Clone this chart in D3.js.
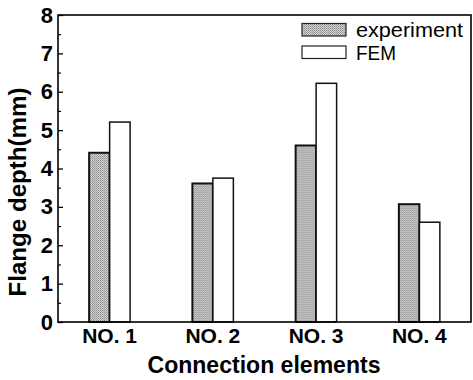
<!DOCTYPE html>
<html><head><meta charset="utf-8">
<script src="https://cdn.jsdelivr.net/npm/d3@7"></script>
<style>body{margin:0;background:#fff;} svg{display:block;font-family:"Liberation Sans",Arial,sans-serif;}</style>
</head><body>
<svg id="c" width="473" height="380"></svg>
<script>
const categories = ["NO. 1","NO. 2","NO. 3","NO. 4"];
const seriesNames = ["experiment","FEM"];
const experiment = [4.41, 3.61, 4.60, 3.07];
const fem = [5.21, 3.75, 6.22, 2.60];
const yTicks = [0,1,2,3,4,5,6,7,8];
const legendWidths = [107, 40];

const svg = d3.select("#c");
const L=58, R=471, T=15, B=322;
const x0 = d3.scaleBand().domain(categories).range([L,R]).paddingInner(0).paddingOuter(0);
const x1 = d3.scaleBand().domain(seriesNames).range([0,x0.bandwidth()]).paddingInner(0).paddingOuter(1.52);
const y = d3.scaleLinear().domain([0,8]).range([B,T]);

const defs = svg.append("defs");
const pat = defs.append("pattern").attr("id","dots").attr("patternUnits","userSpaceOnUse").attr("width",2).attr("height",2);
pat.append("rect").attr("width",2).attr("height",2).attr("fill","#d0d0d0");
pat.append("rect").attr("width",1).attr("height",1).attr("fill","#8e8e8e");
pat.append("rect").attr("x",1).attr("y",1).attr("width",1).attr("height",1).attr("fill","#a4a4a4");

const data = categories.map((c,i)=>({c, vals:[{s:"experiment",v:experiment[i]},{s:"FEM",v:fem[i]}]}));
const g = svg.append("g");
g.selectAll("g.grp").data(data).join("g").attr("class","grp")
 .attr("transform",d=>`translate(${x0(d.c)},0)`)
 .selectAll("rect").data(d=>d.vals).join("rect")
 .attr("x",d=>x1(d.s)).attr("width",x1.bandwidth())
 .attr("y",d=>y(d.v)).attr("height",d=>B-y(d.v))
 .attr("fill",d=>d.s==="experiment"?"url(#dots)":"#fff")
 .attr("stroke","#111").attr("stroke-width",d=>d.s==="experiment"?2:1.5);

// frame
svg.append("rect").attr("x",L).attr("y",T).attr("width",R-L).attr("height",B-T)
 .attr("fill","none").attr("stroke","#000").attr("stroke-width",1.6);

// y axis ticks inward
const yAxis = d3.axisRight(y).tickValues(yTicks).tickSize(5).tickFormat("");
const ya = svg.append("g").attr("transform",`translate(${L},0)`).call(yAxis);
ya.select(".domain").remove();
ya.selectAll("line").attr("stroke","#000").attr("stroke-width",1.3);
const minor = d3.range(0.5,8,1);
svg.append("g").attr("transform",`translate(${L},0)`).call(d3.axisRight(y).tickValues(minor).tickSize(3).tickFormat(""))
 .call(s=>s.select(".domain").remove()).selectAll("line").attr("stroke","#000").attr("stroke-width",1.2);

svg.append("g").selectAll("text").data(yTicks).join("text")
 .attr("x",53).attr("y",d=>y(d)+7.5).attr("text-anchor","end")
 .attr("font-size",22).attr("font-weight","bold").text(d=>d);

svg.append("g").selectAll("text").data(categories).join("text")
 .attr("x",d=>x0(d)+x0.bandwidth()/2).attr("y",343).attr("text-anchor","middle")
 .attr("font-size",21).attr("font-weight","bold").text(d=>d);

svg.append("text").attr("x",264).attr("y",373).attr("text-anchor","middle")
 .attr("font-size",23).attr("font-weight","bold").attr("textLength",233).attr("lengthAdjust","spacingAndGlyphs")
 .text("Connection elements");

svg.append("text").attr("transform","translate(26,192) rotate(-90)").attr("text-anchor","middle")
 .attr("font-size",24).attr("font-weight","bold").attr("textLength",209).attr("lengthAdjust","spacingAndGlyphs")
 .text("Flange depth(mm)");

// legend
const lg = svg.append("g");
seriesNames.forEach((s,i)=>{
  const yy = 23.5 + i*22.5;
  lg.append("rect").attr("x",302).attr("y",yy).attr("width",44).attr("height",12.5)
    .attr("fill",s==="experiment"?"url(#dots)":"#fff").attr("stroke","#222").attr("stroke-width",1.2);
  lg.append("text").attr("x",356).attr("y",yy+13.5).attr("font-size",21)
    .attr("textLength",legendWidths[i]).attr("lengthAdjust","spacingAndGlyphs")
    .text(s);
});
</script>
</body></html>
